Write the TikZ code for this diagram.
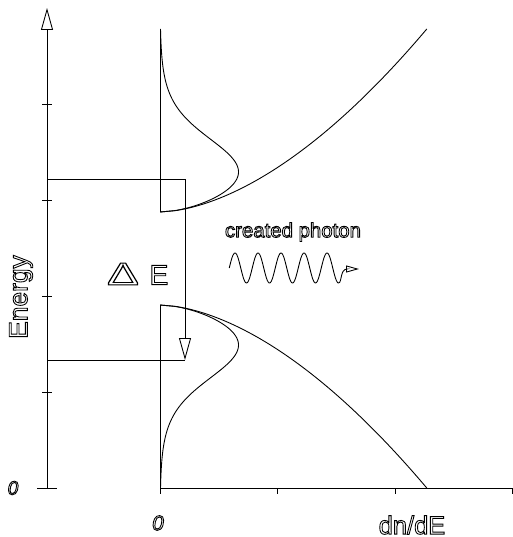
\documentclass[tikz,border=0pt]{standalone}
\usepackage{fontspec}
\setmainfont{Liberation Sans}
\usetikzlibrary{arrows.meta}
\newcommand{\hollow}[1]{\special{pdf:literal direct 1 Tr}#1\special{pdf:literal direct 0 Tr}}

\begin{document}
\begin{tikzpicture}[x = {(0.02cm,0cm)},
  y = {(0cm,-0.02cm)},
  line width=0.5pt,
  bigarrow/.style={-{Triangle[open,length=0.44cm,width=0.24cm]}},
  photonarrow/.style={-{Triangle[open,length=0.26cm,width=0.14cm]}},
  lbl/.style={inner sep=0pt}]

  \useasboundingbox (0,0) rectangle (513,537);

  % origin and band edges
  \def\xo{160}
  \def\yo{488}
  \def\Ec{212}
  \def\Ev{305}
  \def\dE{183}

  % energy axis
  \draw[bigarrow] (47,\yo) -- (47,8);
  \foreach \y in {104,200,296,392}
  \draw (42,\y) -- (52,\y);
  \draw (37,\yo) -- (57,\yo);

  % dn/dE axis
  \draw (\xo,\yo) -- (513,\yo);
  \foreach \x in {277,395,512}
  \draw (\x,\yo) -- (\x,494);
  \draw (\xo,29) -- (\xo,\Ec);
  \draw (\xo,\Ev) -- (\xo,494);

  % density of states
  \draw[domain=0.001:\dE, samples=120, variable=\t]
  (\xo,\Ec) -- plot ({\xo+13*pow(\t,0.58)},{\Ec-\t});
  \draw[domain=0.001:\dE, samples=120, variable=\t]
  (\xo,\Ev) -- plot ({\xo+13*pow(\t,0.58)},{\Ev+\t});

  % electrons and holes
  \draw[domain=0.001:\dE, samples=150, variable=\t]
  (\xo,\Ec) -- plot ({\xo+13*pow(\t,0.58)/(1+exp((\t-58)/20))},{\Ec-\t});
  \draw[domain=0.001:\dE, samples=150, variable=\t]
  (\xo,\Ev) -- plot ({\xo+13*pow(\t,0.58)/(1+exp((\t-58)/20))},{\Ev+\t});

  % transition
  \coordinate (ctop) at (47,179);
  \coordinate (vbot) at (47,360);
  \coordinate (tip) at (185,360);
  \draw[bigarrow] (ctop) -| (tip);
  \draw (vbot) -- (tip);

  % photon
  \draw[photonarrow, domain=0:109.25, samples=150, variable=\p]
  plot ({229.25+\p},{268-15*sin(15.652*\p)})
  .. controls (342,283) and (340,269) .. (347,269) -- (359,269);

  % labels
  \node[lbl] (zeroE) at (13,488) {\fontsize{11}{11}\selectfont\hollow{\itshape 0}};
  \node[lbl, rotate=90] (energy) at (21,297) {\fontsize{15}{15}\selectfont\hollow{Energy}};
  \node[lbl] (zeron) at (158,523) {\fontsize{12}{12}\selectfont\hollow{\itshape 0}};
  \node[lbl] (dndE) at (412,525) {\fontsize{14.5}{15}\selectfont\hollow{dn/dE}};
  \node[lbl] (delta) at (123,274) {\fontsize{18}{18}\selectfont\hollow{\scalebox{1.5}[1]{Δ}}};
  \node[lbl] (gapE) at (159,275) {\fontsize{16}{16}\selectfont\hollow{E}};
  \node[lbl] (photon) at (293,232) {\fontsize{11.6}{12}\selectfont\hollow{created photon}};

\end{tikzpicture}
\end{document}
